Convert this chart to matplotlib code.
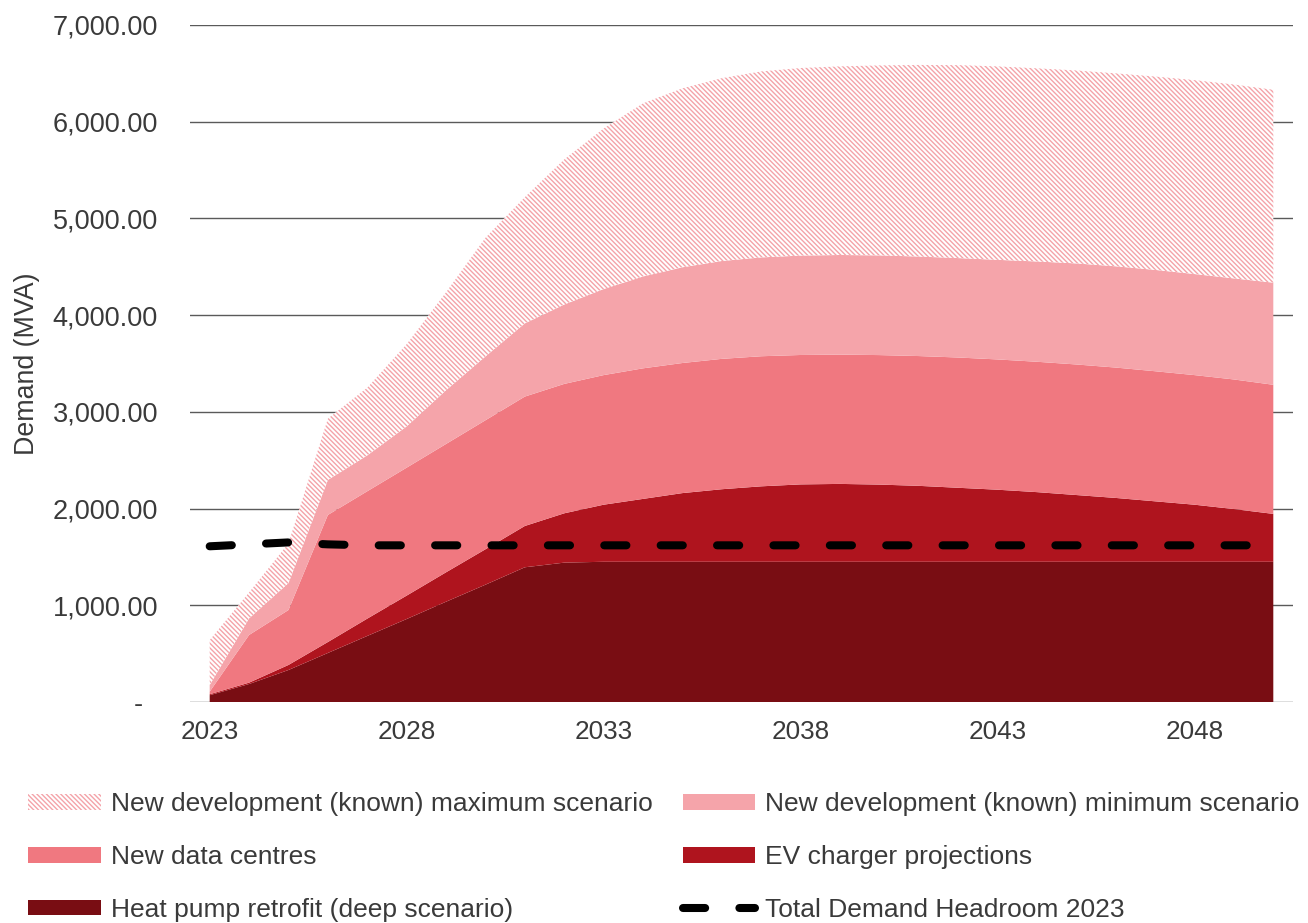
import matplotlib
matplotlib.use("Agg")
import matplotlib.pyplot as plt
from matplotlib.patches import Patch
from matplotlib.lines import Line2D
from matplotlib.ticker import FuncFormatter
import numpy as np

plt.rcParams['font.family'] = ['Liberation Sans', 'DejaVu Sans']
plt.rcParams['hatch.linewidth'] = 1.0
plt.rcParams['hatch.color'] = '#F4A3A9'

years = list(range(2023, 2051))

heat_pump = [70, 186, 331, 507, 683, 858, 1037, 1213, 1393, 1441,
             1450, 1450, 1450, 1450, 1450, 1450, 1450, 1450, 1450, 1450,
             1450, 1450, 1450, 1450, 1450, 1450, 1450, 1450]
ev_charger = [10, 14, 52, 113, 179, 242, 304, 366, 427, 510,
              590, 650, 710, 750, 780, 800, 805, 798, 785, 765,
              745, 720, 690, 660, 625, 590, 545, 495]
data_centres = [27, 493, 568, 1314, 1317, 1323, 1327, 1334, 1338, 1338,
                1340, 1350, 1345, 1348, 1345, 1338, 1337, 1339, 1342, 1347,
                1347, 1348, 1350, 1348, 1345, 1340, 1340, 1335]
dev_min = [69, 172, 279, 362, 371, 427, 556, 660, 757, 821,
           890, 950, 990, 1012, 1022, 1028, 1030, 1031, 1029, 1028,
           1030, 1037, 1045, 1047, 1048, 1045, 1045, 1056]
dev_max = [464, 268, 410, 634, 700, 850, 1012, 1227, 1305, 1500,
           1660, 1790, 1850, 1890, 1923, 1939, 1950, 1964, 1981, 1995,
           2000, 1997, 1995, 1995, 1999, 2005, 2005, 1994]
headroom = [1610, 1630, 1650, 1630, 1620, 1620, 1620, 1620, 1620, 1620,
            1620, 1620, 1620, 1620, 1620, 1620, 1620, 1620, 1620, 1620,
            1620, 1620, 1620, 1620, 1620, 1620, 1620, 1620]

labels = ["Heat pump retrofit (deep scenario)", "EV charger projections",
          "New data centres", "New development (known) minimum scenario",
          "New development (known) maximum scenario"]
line_label = "Total Demand Headroom 2023"
xtick_years = [2023, 2028, 2033, 2038, 2043, 2048]
yticks = [0, 1000, 2000, 3000, 4000, 5000, 6000, 7000]

c_heat = '#790D13'
c_ev = '#AF141E'
c_dc = '#F07880'
c_min = '#F5A4AA'
c_hatch = '#F4A3A9'
txt_col = '#3a3a3a'
HATCH = '\\' * 7

fig = plt.figure(figsize=(13.08, 9.23), dpi=100)
ax = fig.add_axes([190/1308, 221/923, 1103/1308, 677/923])

polys = ax.stackplot(years, heat_pump, ev_charger, data_centres, dev_min, dev_max,
                     colors=[c_heat, c_ev, c_dc, c_min, 'white'], linewidth=0, zorder=2)
hp = polys[-1]
hp.set_facecolor('white')
hp.set_edgecolor(c_hatch)
hp.set_hatch(HATCH)
hp.set_linewidth(0)

ax.plot(years, headroom, color='black', lw=5.8, linestyle=(0, (2.75, 4.25)),
        dash_capstyle='round', zorder=4)

ax.set_xlim(2022.5, 2050.5)
ax.set_ylim(0, 7000)
ax.set_yticks(yticks)
ax.yaxis.set_major_formatter(FuncFormatter(lambda v, p: '-  ' if v == 0 else f'{v:,.2f}'))
ax.set_xticks(xtick_years)
ax.set_xticklabels([str(y) for y in xtick_years])
for s in ax.spines.values():
    s.set_visible(False)
ax.grid(axis='y', color='#5a5a5a', lw=1.0, zorder=0)
ax.set_axisbelow(True)
ax.tick_params(axis='y', length=0, pad=23, labelsize=19.5, labelcolor=txt_col)
ax.tick_params(axis='x', length=0, pad=13, labelsize=18.8, labelcolor=txt_col)
ax.set_ylabel("Demand (MVA)", fontsize=19.3, color=txt_col)
ax.yaxis.set_label_coords(-0.136, 0.5)

h_max = Patch(facecolor='white', edgecolor=c_hatch, hatch=HATCH, linewidth=0)
h_min = Patch(facecolor=c_min, linewidth=0)
h_dc = Patch(facecolor=c_dc, linewidth=0)
h_ev = Patch(facecolor=c_ev, linewidth=0)
h_heat = Patch(facecolor=c_heat, linewidth=0)
h_line = Line2D([], [], color='black', lw=5.8, linestyle=(0, (2.75, 4.25)), dash_capstyle='round')

handles = [h_max, h_dc, h_heat, h_min, h_ev, h_line]
leg_labels = [labels[4], labels[2], labels[0], labels[3], labels[1], line_label]
leg = fig.legend(handles, leg_labels, ncol=2, loc='upper left',
                 bbox_to_anchor=(28/1308, 1 - 792/923), frameon=False,
                 fontsize=19, handlelength=2.75, handleheight=0.55,
                 handletextpad=0.38, columnspacing=1.15, labelspacing=1.095,
                 borderpad=0, borderaxespad=0)
for t in leg.get_texts():
    t.set_color(txt_col)

fig.savefig("out.png", dpi=100)
